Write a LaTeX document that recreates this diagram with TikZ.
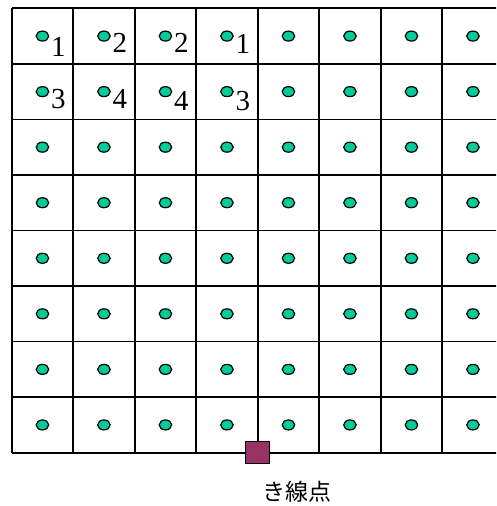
\documentclass[tikz,border=0pt]{standalone}
\usepackage{fontspec}
\setmainfont{Liberation Serif}
\newfontfamily\jpfont{Noto Sans CJK JP}
\usetikzlibrary{shapes.geometric}
\definecolor{dotgreen}{RGB}{0,204,153}
\definecolor{feedred}{RGB}{153,51,102}

\begin{document}
\begin{tikzpicture}[x=1pt, y=-1pt,
	gridline/.style={line width=1.7pt},
	dot/.style={ellipse, draw, line width=1.2pt, fill=dotgreen, minimum width=12.5pt, minimum height=10pt, inner sep=0pt},
	num/.style={font=\fontsize{29}{29}\selectfont, anchor=base west, inner sep=0pt},
	feedbox/.style={draw, line width=1.2pt, fill=feedred, minimum width=24pt, minimum height=22pt, inner sep=0pt}]
	\useasboundingbox (0,0) rectangle (496,506);
	\begin{scope}
		\clip (0,0) rectangle (496,506);
		\foreach \i in {0,...,8}
			\draw[gridline] ({11.7+61.5*\i},8.3) -- ({11.7+61.5*\i},452.7);
		\foreach \j in {0,...,8}
			\draw[gridline] (11.7,{8.3+55.55*\j}) -- (503.7,{8.3+55.55*\j});
		\foreach \r in {1,...,8}
			\foreach \c in {1,...,8}
				\node[dot] (d-\r-\c) at ({11.7+61.5*(\c-0.5)},{8.3+55.55*(\r-0.5)}) {};
	\end{scope}
	% numbered cells
	\foreach \r/\c/\n/\dy in {1/1/1/20.5,1/2/2/16.6,1/3/2/16,1/4/1/17.6,2/1/3/16.6,2/2/4/17,2/3/4/19.2,2/4/3/19.2}
		\node[num] (n-\r-\c) at ([shift={(8.5,\dy)}]d-\r-\c.center) {\n};
	% feeder point
	\node[feedbox] (feed) at (257.3,452.7) {};
	\node[font=\jpfont\fontsize{23}{23}\selectfont] (feedlbl) at (296.7,491.7) {き線点};
\end{tikzpicture}
\end{document}
